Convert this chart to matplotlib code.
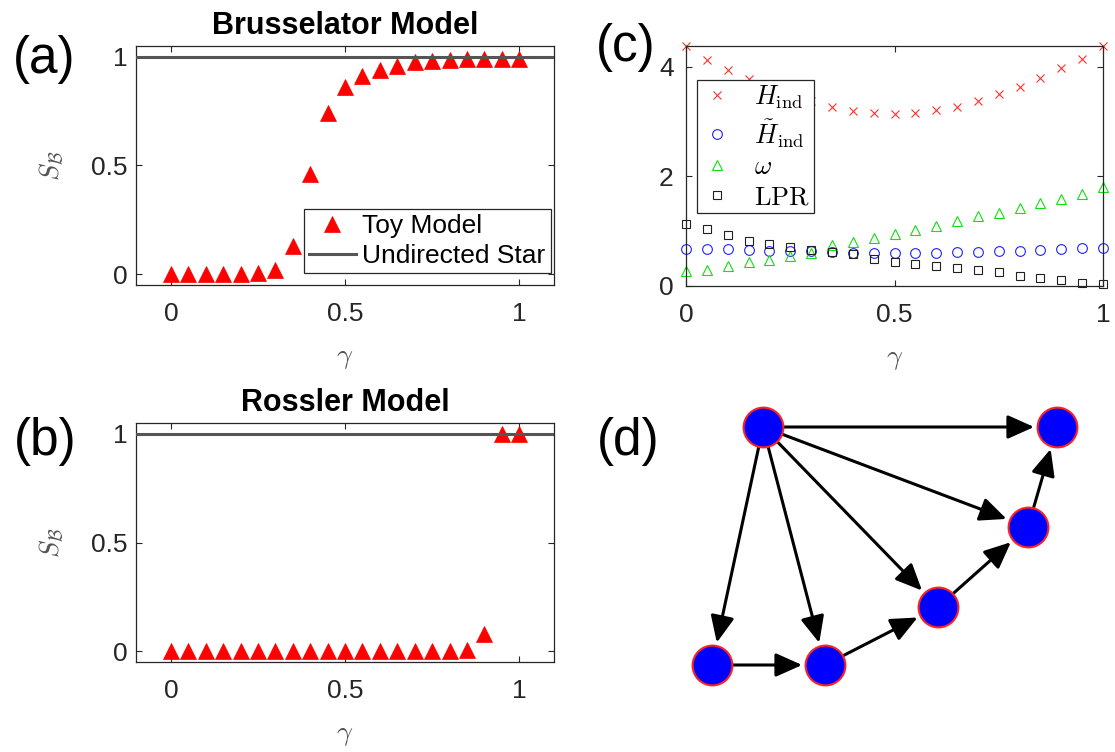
import matplotlib
matplotlib.use("Agg")
import matplotlib.pyplot as plt

plt.rcParams['font.family'] = ['Liberation Sans', 'DejaVu Sans']
plt.rcParams['mathtext.fontset'] = 'cm'

# ---------------- data ----------------
gamma = [0.0, 0.05, 0.1, 0.15, 0.2, 0.25, 0.3, 0.35, 0.4, 0.45, 0.5,
         0.55, 0.6, 0.65, 0.7, 0.75, 0.8, 0.85, 0.9, 0.95, 1.0]

brusselator_sb = [0.0, 0.0, 0.0, 0.0, 0.0, 0.005, 0.02, 0.13, 0.46, 0.74, 0.86,
                  0.91, 0.94, 0.96, 0.975, 0.98, 0.985, 0.99, 0.99, 0.99, 0.99]
rossler_sb = [0.0, 0.0, 0.0, 0.0, 0.0, 0.0, 0.0, 0.0, 0.0, 0.0, 0.0,
              0.0, 0.0, 0.0, 0.0, 0.0, 0.0, 0.005, 0.08, 1.0, 1.0]
undirected_star = 1.0

h_ind = [4.38, 4.12, 3.95, 3.78, 3.62, 3.48, 3.37, 3.27, 3.2, 3.16, 3.14,
         3.16, 3.21, 3.27, 3.37, 3.5, 3.64, 3.79, 3.97, 4.14, 4.38]
h_ind_tilde = [0.68, 0.67, 0.67, 0.65, 0.64, 0.64, 0.63, 0.62, 0.6, 0.6, 0.6,
               0.6, 0.6, 0.62, 0.62, 0.64, 0.64, 0.66, 0.68, 0.7, 0.7]
omega = [0.28, 0.3, 0.36, 0.44, 0.48, 0.55, 0.61, 0.74, 0.8, 0.87, 0.95,
         1.03, 1.09, 1.18, 1.27, 1.33, 1.43, 1.51, 1.59, 1.67, 1.8]
lpr = [1.13, 1.04, 0.93, 0.82, 0.76, 0.72, 0.65, 0.62, 0.58, 0.49, 0.44,
       0.41, 0.36, 0.32, 0.29, 0.25, 0.19, 0.15, 0.11, 0.06, 0.04]

# network for panel (d)
node_x = [763, 1057, 1028, 938, 825, 712]
node_y = [427, 427, 527, 607, 665, 665]
edges = [(0, 1), (0, 2), (0, 3), (0, 4), (0, 5), (5, 4), (4, 3), (3, 2), (2, 1)]

tick_labels_s = ['0', '0.5', '1']
tick_labels_c_y = ['0', '2', '4']

# ---------------- figure ----------------
W, H = 1115, 752
fig = plt.figure(figsize=(W / 100, H / 100), dpi=100)

def rect(l, t, r, b):
    return [l / W, 1 - b / H, (r - l) / W, (b - t) / H]

dark = '#262626'

def style(ax, xpad=13, ypad=7):
    for s in ax.spines.values():
        s.set_color(dark)
        s.set_linewidth(0.9)
    ax.tick_params(direction='in', top=True, right=True, length=4, width=0.8,
                   colors=dark, labelsize=19)
    ax.tick_params(axis='x', pad=xpad)
    ax.tick_params(axis='y', pad=ypad)

def sb_panel(ax, values, title, legend=False):
    ax.plot(gamma, values, linestyle='none', marker='^', ms=12, color='red',
            mec='red', mew=0.5, label='Toy Model', zorder=2)
    ax.axhline(undirected_star, color='#555555', lw=2.2, label='Undirected Star', zorder=3)
    ax.set_xlim(-0.1, 1.1)
    ax.set_ylim(-0.05, 1.05)
    ax.set_xticks([0, 0.5, 1])
    ax.set_xticklabels(tick_labels_s)
    ax.set_yticks([0, 0.5, 1])
    ax.set_yticklabels(tick_labels_s)
    style(ax, xpad=12, ypad=6)
    ax.set_title(title, fontsize=22, fontweight='bold', pad=9)
    ax.set_xlabel(r'$\gamma$', fontsize=20, color='#555555')
    ax.xaxis.set_label_coords(0.5, -0.25)
    ax.set_ylabel(r'$S_{\mathcal{B}}$', fontsize=19, color='#555555')
    ax.yaxis.set_label_coords(-0.17, 0.5)
    if legend:
        lg = ax.legend(loc='lower right', fontsize=19, frameon=True, fancybox=False,
                       edgecolor=dark, framealpha=1, handlelength=1.75, handletextpad=0.25,
                       borderpad=0.2, labelspacing=0.2, borderaxespad=0.0,
                       bbox_to_anchor=(0.992, 0.05))
        lg.get_frame().set_linewidth(0.9)

ax_a = fig.add_axes(rect(136, 46, 554, 285))
sb_panel(ax_a, brusselator_sb, 'Brusselator Model', legend=True)

ax_b = fig.add_axes(rect(136, 423, 554, 662))
sb_panel(ax_b, rossler_sb, 'Rossler Model')

# panel (c)
ax_c = fig.add_axes(rect(686, 46, 1103, 286))
ax_c.plot(gamma, h_ind, linestyle='none', marker='x', ms=6, mew=0.8, color='#ff3030',
          label=r'$H_{\rm ind}$', clip_on=False)
ax_c.plot(gamma, h_ind_tilde, linestyle='none', marker='o', ms=7, mew=0.8,
          mfc='none', mec='#2020ff', label=r'$\tilde{H}_{\rm ind}$', clip_on=False)
ax_c.plot(gamma, omega, linestyle='none', marker='^', ms=7, mew=0.8,
          mfc='none', mec='#10e010', label=r'$\omega$', clip_on=False)
ax_c.plot(gamma, lpr, linestyle='none', marker='s', ms=6, mew=0.8,
          mfc='none', mec='#202020', label=r'$\rm LPR$', clip_on=False)
ax_c.set_xlim(0, 1)
ax_c.set_ylim(0, 4.38)
ax_c.set_xticks([0, 0.5, 1])
ax_c.set_xticklabels(tick_labels_s)
ax_c.set_yticks([0, 2, 4])
ax_c.set_yticklabels(tick_labels_c_y)
style(ax_c, xpad=12, ypad=9)
ax_c.set_xlabel(r'$\gamma$', fontsize=20, color='#555555')
ax_c.xaxis.set_label_coords(0.5, -0.25)
lg = ax_c.legend(loc='upper left', bbox_to_anchor=(0.027, 0.86), fontsize=19,
                 frameon=True, fancybox=False, edgecolor=dark, framealpha=1,
                 handlelength=1.2, handletextpad=0.8, borderpad=0.15,
                 labelspacing=0.22, borderaxespad=0.0)
lg.set_zorder(10)
lg.get_frame().set_linewidth(0.9)

# panel (d)
ax_d = fig.add_axes(rect(680, 380, 1110, 720))
ax_d.set_xlim(680, 1110)
ax_d.set_ylim(720, 380)
ax_d.axis('off')
for a, b in edges:
    ax_d.annotate('', xy=(node_x[b], node_y[b]), xytext=(node_x[a], node_y[a]),
                  arrowprops=dict(arrowstyle='-|>,head_length=0.85,head_width=0.38',
                                  color='black', lw=2.2, shrinkA=14, shrinkB=16.5,
                                  mutation_scale=19))
ax_d.scatter(node_x, node_y, s=820, c='#0000ff', edgecolors='#ff2020',
             linewidths=1.5, zorder=5)

# panel letters
for txt, x, y in [('(a)', 44, 60), ('(b)', 45, 441), ('(c)', 626, 48), ('(d)', 628, 442)]:
    fig.text(x / W, 1 - y / H, txt, fontsize=37, ha='center', va='center', color='black')

fig.savefig('out.png', dpi=100)
